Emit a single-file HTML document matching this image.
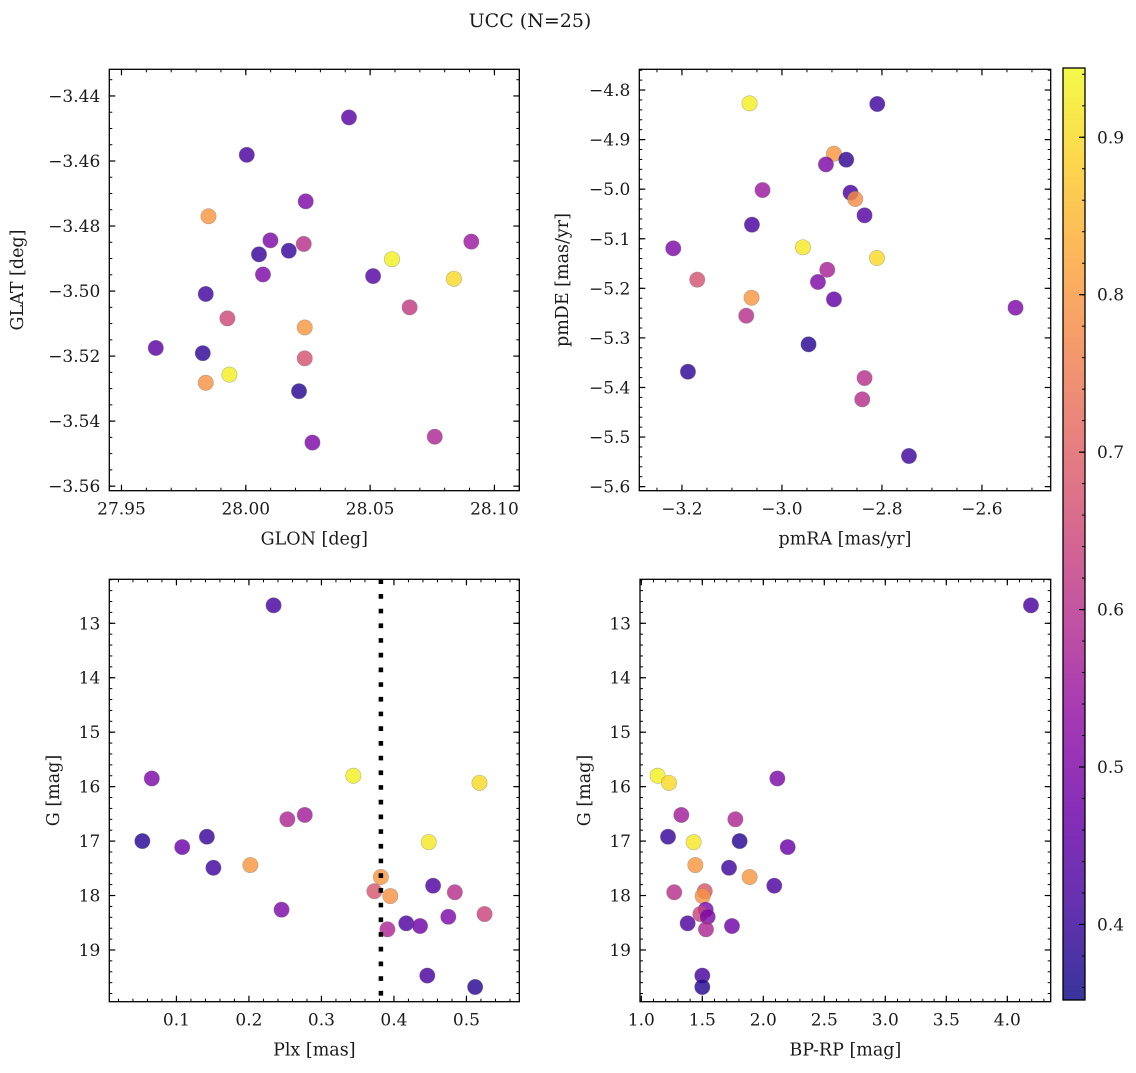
<!DOCTYPE html>
<html><head><meta charset="utf-8"><style>
html,body{margin:0;padding:0;background:#fff;}
svg text{font-family:"DejaVu Serif","Liberation Serif",serif;fill:#1a1a1a;}
</style></head><body>
<svg id="fig" width="1136" height="1068" viewBox="0 0 1136 1068" xmlns="http://www.w3.org/2000/svg">
<text x="530" y="27" font-size="19" text-anchor="middle">UCC (N=25)</text>
<defs>
<linearGradient id="cbgrad" x1="0" y1="1" x2="0" y2="0"></linearGradient>
</defs>
</svg>
<script>
// Panel 1: GLON vs GLAT
const glon = [28.0415,28.0004,28.0241,27.985,28.0099,28.0233,28.0907,28.0053,28.0173,28.0588,28.0069,28.0512,28.0837,27.9839,28.0659,27.9926,28.0237,27.9638,27.9827,28.0237,27.9934,27.9839,28.0214,28.076,28.0268];
const glat = [-3.4466,-3.4581,-3.4724,-3.477,-3.4844,-3.4855,-3.4848,-3.4887,-3.4876,-3.4902,-3.4949,-3.4954,-3.4962,-3.5009,-3.505,-3.5084,-3.5112,-3.5175,-3.5191,-3.5207,-3.5257,-3.5282,-3.5308,-3.5448,-3.5466];
const prob1 = [0.45,0.42,0.5,0.8,0.5,0.6,0.55,0.4,0.4,0.93,0.5,0.44,0.9,0.41,0.62,0.65,0.8,0.45,0.39,0.67,0.93,0.79,0.38,0.58,0.5];
// Panel 2: pmRA vs pmDE
const pmra = [-3.0648,-2.8094,-2.896,-2.8714,-2.912,-3.0388,-2.8628,-2.8534,-2.8348,-3.06,-3.2174,-2.958,-2.81,-2.9094,-3.1694,-2.928,-3.0608,-2.896,-2.5328,-3.0714,-2.9468,-3.188,-2.8348,-2.8394,-2.746];
const pmde = [-4.8269,-4.8282,-4.9284,-4.9405,-4.95,-5.0017,-5.007,-5.0198,-5.0528,-5.0716,-5.1193,-5.1173,-5.1388,-5.1624,-5.1825,-5.1872,-5.2189,-5.2222,-5.2391,-5.2552,-5.313,-5.3682,-5.3809,-5.4239,-5.5382];
const prob2 = [0.93,0.41,0.8,0.39,0.5,0.55,0.42,0.78,0.44,0.42,0.5,0.92,0.9,0.57,0.67,0.5,0.8,0.46,0.5,0.6,0.38,0.39,0.6,0.6,0.41];
// Panel 3: Plx vs G
const plx = [0.234,0.066,0.344,0.518,0.253,0.277,0.053,0.108,0.142,0.151,0.202,0.448,0.245,0.382,0.373,0.395,0.454,0.484,0.525,0.475,0.391,0.417,0.436,0.446,0.512];
const gmag3 = [12.67,15.85,15.80,15.93,16.60,16.52,17.00,17.11,16.92,17.49,17.44,17.02,18.26,17.66,17.92,18.01,17.82,17.94,18.34,18.39,18.62,18.51,18.56,19.47,19.68];
const prob3 = [0.42,0.5,0.93,0.9,0.58,0.56,0.38,0.47,0.4,0.41,0.8,0.92,0.5,0.8,0.68,0.79,0.43,0.6,0.64,0.5,0.58,0.43,0.48,0.42,0.38];
const plxCut = [0.382];
// Panel 4: BP-RP vs G
const bprp = [4.194,1.134,1.227,2.115,1.328,1.771,1.219,1.429,1.806,2.2,1.443,1.719,1.888,2.09,1.27,1.52,1.503,1.528,1.484,1.544,1.38,1.743,1.53,1.5,1.5];
const gmag4 = [12.67,15.80,15.93,15.85,16.52,16.60,16.92,17.02,17.00,17.11,17.44,17.49,17.66,17.82,17.94,17.92,18.01,18.26,18.34,18.39,18.51,18.56,18.62,19.47,19.68];
const prob4 = [0.42,0.93,0.9,0.5,0.56,0.58,0.4,0.92,0.38,0.47,0.8,0.41,0.8,0.43,0.6,0.68,0.79,0.5,0.64,0.5,0.43,0.48,0.58,0.42,0.38];
// Tick label arrays
const ticks1x = [27.95,28.00,28.05,28.10], ticks1y = [-3.44,-3.46,-3.48,-3.50,-3.52,-3.54,-3.56];
const ticks2x = [-3.2,-3.0,-2.8,-2.6], ticks2y = [-4.8,-4.9,-5.0,-5.1,-5.2,-5.3,-5.4,-5.5,-5.6];
const ticks3x = [0.1,0.2,0.3,0.4,0.5], ticksGy = [13,14,15,16,17,18,19];
const ticks4x = [1.0,1.5,2.0,2.5,3.0,3.5,4.0];
const cbTicks = [0.4,0.5,0.6,0.7,0.8,0.9];

const NS = "http://www.w3.org/2000/svg";
const svg = document.getElementById('fig');
const plasma = [[13,8,135],[65,4,157],[106,0,168],[143,13,164],[177,42,144],[204,71,120],[225,100,98],[242,132,75],[252,166,54],[252,206,37],[240,249,33]];
const CMIN = 0.352, CMAX = 0.944;
function cmap(v){
  let t = (v - CMIN) / (CMAX - CMIN); t = Math.max(0, Math.min(1, t));
  const p = t * 10, i = Math.min(9, Math.floor(p)), f = p - i;
  const a = plasma[i], b = plasma[i+1];
  return 'rgb(' + [0,1,2].map(k => Math.round(a[k] + (b[k]-a[k])*f)).join(',') + ')';
}
function el(tag, attrs, parent){
  const e = document.createElementNS(NS, tag);
  for (const k in attrs) e.setAttribute(k, attrs[k]);
  (parent || svg).appendChild(e); return e;
}
function fmt(v, d){ const s = Math.abs(v).toFixed(d); return (v < 0 ? '\u2212' : '') + s; }

function panel(name, box, xr, yr, xt, yt, xminor, yminor, xd, yd, xs, ys, cs, xlabel, ylabel, ylabX){
  const g = el('g', {});
  
  
  const [L, T, R, B] = box;
  const X = v => L + (v - xr[0]) / (xr[1] - xr[0]) * (R - L);
  const Y = v => T + (v - yr[0]) / (yr[1] - yr[0]) * (B - T);
  const mg = el('g', {stroke:'#000','stroke-width':1}, g);
  
  
  const x0 = Math.ceil(Math.min(xr[0],xr[1]) / xminor - 1e-6), x1 = Math.floor(Math.max(xr[0],xr[1]) / xminor + 1e-6);
  for (let i = x0; i <= x1; i++){ const x = X(i * xminor);
    el('line', {x1:x, x2:x, y1:B, y2:B-3}, mg); el('line', {x1:x, x2:x, y1:T, y2:T+3}, mg); }
  const y0 = Math.ceil(Math.min(yr[0],yr[1]) / yminor - 1e-6), y1 = Math.floor(Math.max(yr[0],yr[1]) / yminor + 1e-6);
  for (let i = y0; i <= y1; i++){ const y = Y(i * yminor);
    el('line', {x1:L, x2:L+3, y1:y, y2:y}, mg); el('line', {x1:R, x2:R-3, y1:y, y2:y}, mg); }
  xt.forEach(v => { const x = X(v);
    const tk = el('line', {x1:x, x2:x, y1:B, y2:B-6, stroke:'#000','stroke-width':1.2}, g);
     
    el('line', {x1:x, x2:x, y1:T, y2:T+6, stroke:'#000','stroke-width':1.2}, g);
    const t = el('text', {x:x, y:B+24, 'font-size':17, 'text-anchor':'middle'}, g);
     
    t.textContent = fmt(v, xd); });
  yt.forEach(v => { const y = Y(v);
    const tk = el('line', {x1:L, x2:L+6, y1:y, y2:y, stroke:'#000','stroke-width':1.2}, g);
     
    el('line', {x1:R, x2:R-6, y1:y, y2:y, stroke:'#000','stroke-width':1.2}, g);
    const t = el('text', {x:L-9, y:y+6, 'font-size':17, 'text-anchor':'end'}, g);
     
    t.textContent = fmt(v, yd); });
  xs.forEach((v, i) => {
    const c = el('circle', {cx:X(v), cy:Y(ys[i]), r:7.7, fill:cmap(cs[i]), 'fill-opacity':0.82, stroke:'#777', 'stroke-opacity':0.5, 'stroke-width':0.6}, g);
    
    
  });
  const fr = el('rect', {x:L, y:T, width:R-L, height:B-T, fill:'none', stroke:'#000', 'stroke-width':1.3}, g);
   
  const xl = el('text', {x:(L+R)/2, y:B+54, 'font-size':17.5, 'text-anchor':'middle'}, g);
   
  xl.textContent = xlabel;
  const yl = el('text', {x:0, y:0, 'font-size':17.5, 'text-anchor':'middle', transform:'translate(' + ylabX + ',' + ((T+B)/2) + ') rotate(-90)'}, g);
   
  yl.textContent = ylabel;
  return {X, Y, g, T, B};
}

panel('glon-glat-panel', [109.3,69.3,519.3,490.7], [27.9451,28.1100], [-3.4318,-3.5614], ticks1x, ticks1y, 0.01, 0.005, 2, 2, glon, glat, prob1, 'GLON [deg]', 'GLAT [deg]', 23);
panel('pm-panel', [639.3,69.3,1050.7,490.7], [-3.2853,-2.4625], [-4.7582,-5.6082], ticks2x, ticks2y, 0.05, 0.02, 1, 1, pmra, pmde, prob2, 'pmRA [mas/yr]', 'pmDE [mas/yr]', 568);
const p3 = panel('plx-g-panel', [109.3,579.3,519.3,1001.7], [0.0074,0.5729], [12.192,19.950], ticks3x, ticksGy, 0.02, 0.2, 1, 0, plx, gmag3, prob3, 'Plx [mas]', 'G [mag]', 59);
panel('cmd-panel', [640,579.3,1050.7,1001.7], [0.9893,4.3557], [12.192,19.950], ticks4x, ticksGy, 0.1, 0.2, 1, 0, bprp, gmag4, prob4, 'BP-RP [mag]', 'G [mag]', 590);

const cutX = p3.X(plxCut[0]);
const cl = el('line', {x1:cutX, x2:cutX, y1:p3.T, y2:p3.B, stroke:'#000', 'stroke-width':4.5, 'stroke-dasharray':'4.7 10'});



const grad = document.getElementById('cbgrad');
for (let i = 0; i <= 20; i++){
  const v = CMIN + (CMAX - CMIN) * i / 20;
  el('stop', {offset:(i*5)+'%', 'stop-color':cmap(v), 'stop-opacity':0.82}, grad);
}
const cbL = 1063, cbR = 1085, cbT = 68, cbB = 1000;
const CY = v => cbB - (v - CMIN) / (CMAX - CMIN) * (cbB - cbT);
const cb = el('g', {});


el('rect', {x:cbL, y:cbT, width:cbR-cbL, height:cbB-cbT, fill:'url(#cbgrad)'}, cb);
for (let v = 0.36; v < CMAX; v += 0.02){ const y = CY(v);
  el('line', {x1:cbR, x2:cbR-3, y1:y, y2:y, stroke:'#000', 'stroke-width':1}, cb); }
cbTicks.forEach(v => { const y = CY(v);
  const tk = el('line', {x1:cbR, x2:cbR-6, y1:y, y2:y, stroke:'#000', 'stroke-width':1.2}, cb);
   
  const t = el('text', {x:cbR+12, y:y+6, 'font-size':17}, cb);
   
  t.textContent = v.toFixed(1); });
el('rect', {x:cbL, y:cbT, width:cbR-cbL, height:cbB-cbT, fill:'none', stroke:'#000', 'stroke-width':1.3}, cb);
</script>
</body></html>
